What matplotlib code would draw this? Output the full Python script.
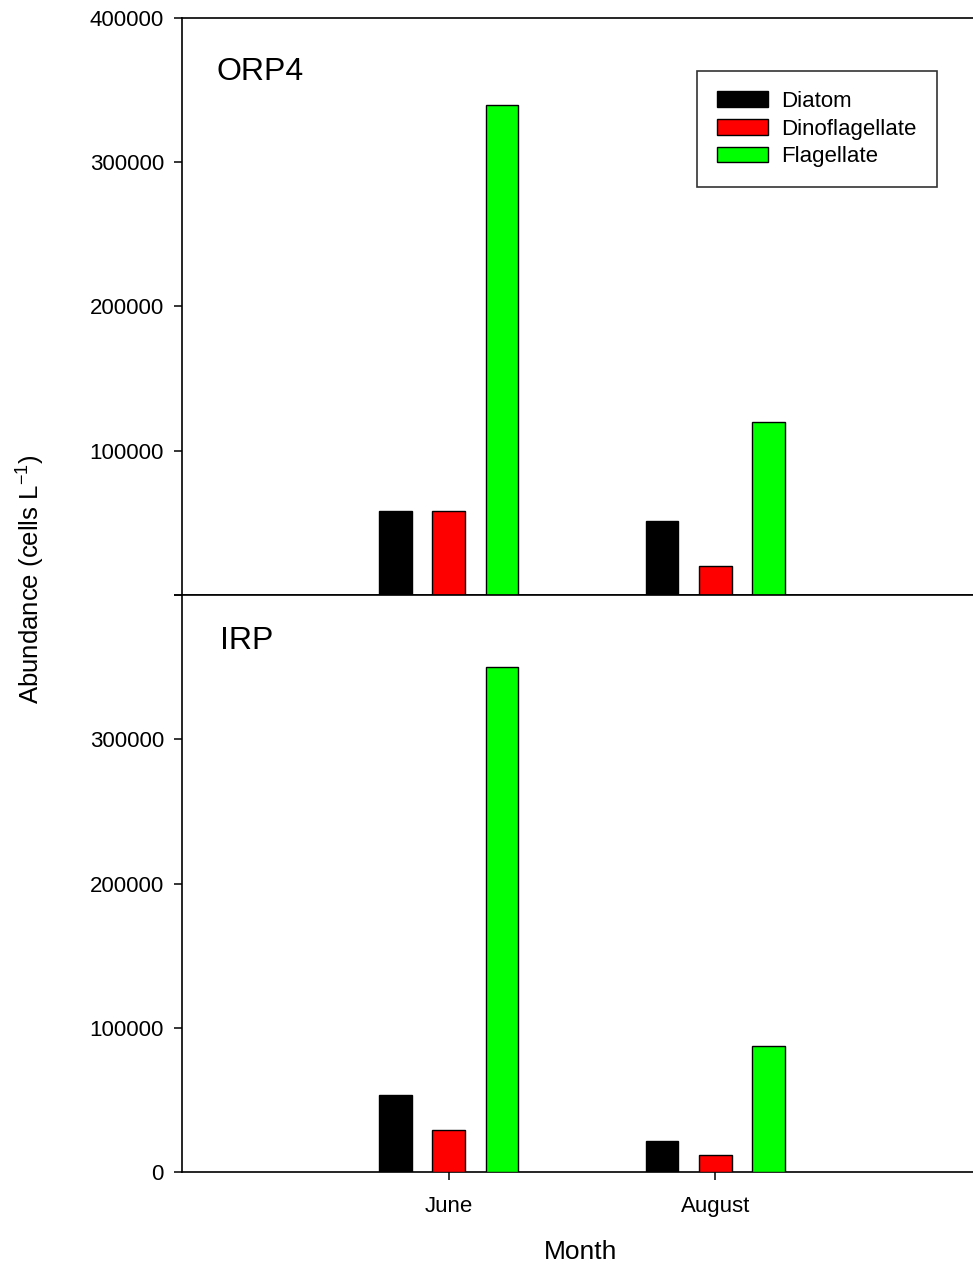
import numpy as np
import matplotlib
matplotlib.use("Agg")
from matplotlib import pyplot as plt

plt.rcParams['font.family'] = ['Liberation Sans', 'DejaVu Sans']

months = ['June', 'August']
groups = ['Diatom', 'Dinoflagellate', 'Flagellate']
colors = ['#000000', '#ff0000', '#00ff00']

# cells per litre, one row per group, one column per month
orp4 = [[58000, 51000],
        [58000, 20000],
        [340000, 120000]]
irp = [[53500, 21500],
       [29000, 11500],
       [350000, 87500]]

fig = plt.figure(figsize=(9.73, 12.68), dpi=100)
W, H = 973.0, 1268.0
left, right = 182 / W, 982 / W
ax1 = fig.add_axes([left, 1 - 595 / H, right - left, 577 / H])
ax2 = fig.add_axes([left, 1 - 1172 / H, right - left, 577 / H])

x = np.arange(1, len(months) + 1)
offsets = [-0.2, 0.0, 0.2]
width = 0.122

for ax, data in ((ax1, orp4), (ax2, irp)):
    for i, g in enumerate(groups):
        ax.bar(x + offsets[i], data[i], width, color=colors[i],
               edgecolor='black', linewidth=1.0, label=g, zorder=3)
    ax.set_xlim(0, 3)
    ax.set_ylim(0, 400000)
    ax.set_xticks(x)
    ax.set_yticks([0, 100000, 200000, 300000, 400000])
    ax.tick_params(axis='both', direction='out', length=6, width=1.1,
                   labelsize=16, color='black')
    ax.tick_params(axis='x', pad=11)
    ax.tick_params(axis='y', pad=7)
    for s in ax.spines.values():
        s.set_linewidth(1.2)

ax1.set_yticklabels(['', '100000', '200000', '300000', '400000'])
ax1.set_xticklabels(['', ''])
ax2.set_yticklabels(['0', '100000', '200000', '300000', ''])
ax2.set_xticklabels(months)

ax1.text(0.0425, 0.906, 'ORP4', transform=ax1.transAxes, fontsize=23, va='center')
ax2.text(0.0475, 0.920, 'IRP', transform=ax2.transAxes, fontsize=23, va='center')

leg = ax1.legend(loc='upper left', bbox_to_anchor=(697 / W, 1 - 71 / H),
                 bbox_transform=fig.transFigure, borderaxespad=0,
                 fontsize=16, frameon=True, fancybox=False, shadow=False,
                 handlelength=2.3, handleheight=0.72, handletextpad=0.6,
                 labelspacing=0.3, borderpad=0.9)
leg.get_frame().set_edgecolor('black')
leg.get_frame().set_linewidth(1.2)

fig.text(30 / W, 1 - 579 / H, r'Abundance (cells L$^{\mathregular{-1}}$)',
         rotation=90, fontsize=18.5, ha='center', va='center')
fig.text(581 / W, 1 - 1252 / H, 'Month', fontsize=19, ha='center', va='center')

fig.savefig('out.png', dpi=100)
